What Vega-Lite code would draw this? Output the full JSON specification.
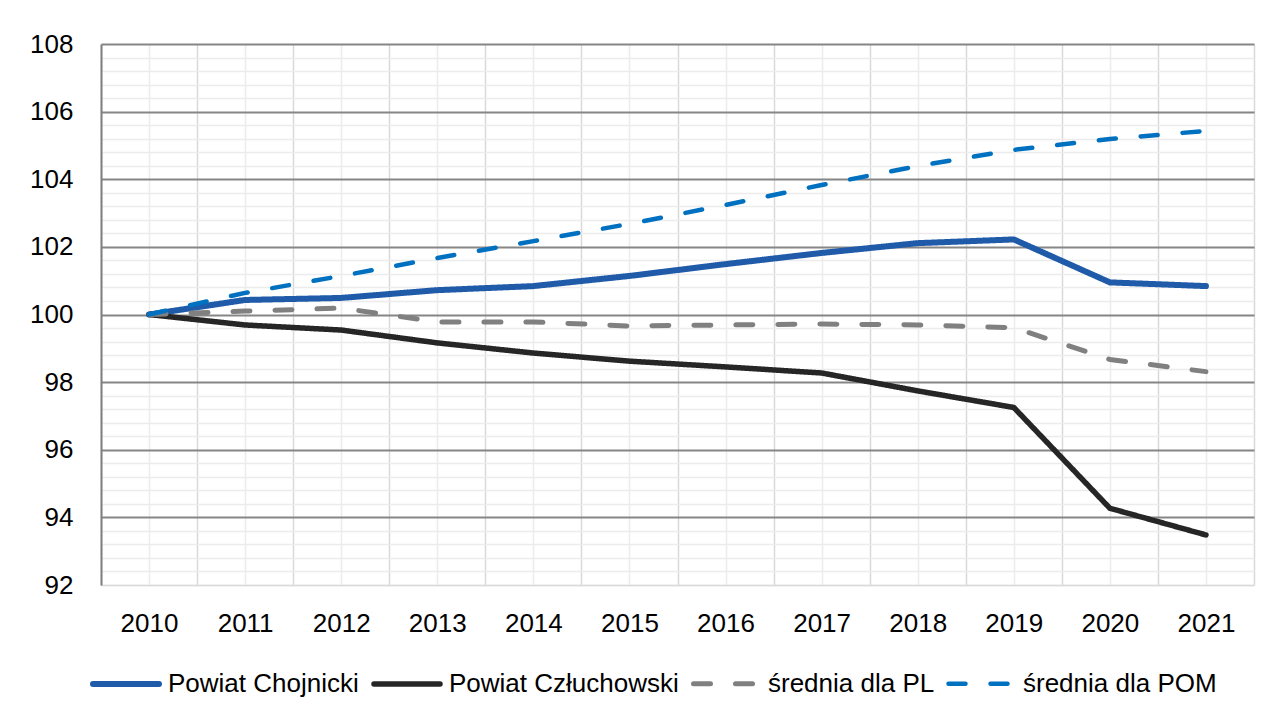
{
  "$schema": "https://vega.github.io/schema/vega-lite/v6.json",
  "width": 1153,
  "height": 541,
  "autosize": {"type": "none"},
  "padding": {"left": 101, "top": 44, "right": 19, "bottom": 134},
  "background": "white",
  "config": {
    "font": "Liberation Sans",
    "view": {"stroke": null},
    "axis": {"labelFont": "Liberation Sans", "labelColor": "#000000", "labelFontSize": 26, "labelOverlap": false}
  },
  "data": {
    "values": [
      {"year": 2010, "series": "Powiat Chojnicki", "value": 100},
      {"year": 2011, "series": "Powiat Chojnicki", "value": 100.43},
      {"year": 2012, "series": "Powiat Chojnicki", "value": 100.49},
      {"year": 2013, "series": "Powiat Chojnicki", "value": 100.72},
      {"year": 2014, "series": "Powiat Chojnicki", "value": 100.84},
      {"year": 2015, "series": "Powiat Chojnicki", "value": 101.14},
      {"year": 2016, "series": "Powiat Chojnicki", "value": 101.49},
      {"year": 2017, "series": "Powiat Chojnicki", "value": 101.82},
      {"year": 2018, "series": "Powiat Chojnicki", "value": 102.11},
      {"year": 2019, "series": "Powiat Chojnicki", "value": 102.22},
      {"year": 2020, "series": "Powiat Chojnicki", "value": 100.95},
      {"year": 2021, "series": "Powiat Chojnicki", "value": 100.84},
      {"year": 2010, "series": "Powiat Człuchowski", "value": 100},
      {"year": 2011, "series": "Powiat Człuchowski", "value": 99.69},
      {"year": 2012, "series": "Powiat Człuchowski", "value": 99.54},
      {"year": 2013, "series": "Powiat Człuchowski", "value": 99.16},
      {"year": 2014, "series": "Powiat Człuchowski", "value": 98.86},
      {"year": 2015, "series": "Powiat Człuchowski", "value": 98.62},
      {"year": 2016, "series": "Powiat Człuchowski", "value": 98.45},
      {"year": 2017, "series": "Powiat Człuchowski", "value": 98.27},
      {"year": 2018, "series": "Powiat Człuchowski", "value": 97.74},
      {"year": 2019, "series": "Powiat Człuchowski", "value": 97.25},
      {"year": 2020, "series": "Powiat Człuchowski", "value": 94.27},
      {"year": 2021, "series": "Powiat Człuchowski", "value": 93.48},
      {"year": 2010, "series": "średnia dla PL", "value": 100},
      {"year": 2011, "series": "średnia dla PL", "value": 100.1},
      {"year": 2012, "series": "średnia dla PL", "value": 100.19},
      {"year": 2013, "series": "średnia dla PL", "value": 99.78},
      {"year": 2014, "series": "średnia dla PL", "value": 99.78},
      {"year": 2015, "series": "średnia dla PL", "value": 99.66},
      {"year": 2016, "series": "średnia dla PL", "value": 99.69},
      {"year": 2017, "series": "średnia dla PL", "value": 99.72},
      {"year": 2018, "series": "średnia dla PL", "value": 99.69},
      {"year": 2019, "series": "średnia dla PL", "value": 99.61},
      {"year": 2020, "series": "średnia dla PL", "value": 98.67},
      {"year": 2021, "series": "średnia dla PL", "value": 98.31},
      {"year": 2010, "series": "średnia dla POM", "value": 100},
      {"year": 2011, "series": "średnia dla POM", "value": 100.64},
      {"year": 2012, "series": "średnia dla POM", "value": 101.14},
      {"year": 2013, "series": "średnia dla POM", "value": 101.67},
      {"year": 2014, "series": "średnia dla POM", "value": 102.17},
      {"year": 2015, "series": "średnia dla POM", "value": 102.68},
      {"year": 2016, "series": "średnia dla POM", "value": 103.24},
      {"year": 2017, "series": "średnia dla POM", "value": 103.83},
      {"year": 2018, "series": "średnia dla POM", "value": 104.39},
      {"year": 2019, "series": "średnia dla POM", "value": 104.87},
      {"year": 2020, "series": "średnia dla POM", "value": 105.19},
      {"year": 2021, "series": "średnia dla POM", "value": 105.43}
    ]
  },
  "mark": {"type": "line", "strokeCap": "round", "strokeJoin": "round", "clip": false},
  "encoding": {
    "x": {
      "field": "year",
      "type": "quantitative",
      "scale": {"domain": [2009.5, 2021.5], "nice": false, "zero": false},
      "axis": {
        "title": null,
        "values": [2009.5, 2010, 2010.5, 2011, 2011.5, 2012, 2012.5, 2013, 2013.5, 2014, 2014.5, 2015, 2015.5, 2016, 2016.5, 2017, 2017.5, 2018, 2018.5, 2019, 2019.5, 2020, 2020.5, 2021, 2021.5],
        "labelExpr": "datum.value % 1 === 0 ? '' + datum.value : ''",
        "labelOverlap": false,
        "labelFlush": false,
        "ticks": false,
        "tickSize": 0,
        "labelPadding": 25,
        "labelBaseline": "top",
        "domainColor": "#d9d9d9",
        "domainWidth": 1.5,
        "grid": true,
        "gridColor": {"condition": {"test": "datum.value % 1 !== 0", "value": "#d9d9d9"}, "value": "#ececec"},
        "gridWidth": 1.5,
        "zindex": 0
      }
    },
    "y": {
      "field": "value",
      "type": "quantitative",
      "scale": {"domain": [92, 108], "nice": false, "zero": false},
      "axis": {
        "title": null,
        "values": [92, 92.4, 92.8, 93.2, 93.6, 94, 94.4, 94.8, 95.2, 95.6, 96, 96.4, 96.8, 97.2, 97.6, 98, 98.4, 98.8, 99.2, 99.6, 100, 100.4, 100.8, 101.2, 101.6, 102, 102.4, 102.8, 103.2, 103.6, 104, 104.4, 104.8, 105.2, 105.6, 106, 106.4, 106.8, 107.2, 107.6, 108],
        "labelExpr": "datum.value % 2 === 0 ? '' + datum.value : ''",
        "labelOverlap": false,
        "labelFlush": false,
        "ticks": false,
        "tickSize": 0,
        "labelPadding": 28,
        "labelAlign": "right",
        "labelBaseline": "middle",
        "domainColor": "#7f7f7f",
        "domainWidth": 2,
        "grid": true,
        "gridColor": {"condition": {"test": "datum.value % 2 === 0 && datum.value > 92", "value": "#868686"}, "value": "#ececec"},
        "gridWidth": {"condition": {"test": "datum.value % 2 === 0 && datum.value > 92", "value": 1.8}, "value": 1.5},
        "zindex": 0
      }
    },
    "color": {
      "field": "series",
      "type": "nominal",
      "scale": {
        "domain": ["Powiat Chojnicki", "Powiat Człuchowski", "średnia dla PL", "średnia dla POM"],
        "range": ["#1f5ba8", "#262626", "#808080", "#0070c0"]
      },
      "legend": {
        "title": null,
        "orient": "none",
        "direction": "horizontal",
        "legendX": -11,
        "legendY": 604,
        "symbolType": "stroke",
        "symbolSize": 4356,
        "labelFontSize": 26,
        "labelFont": "Liberation Sans",
        "labelColor": "#000000",
        "labelOffset": 6,
        "columnPadding": 4,
        "labelLimit": 400,
        "encode": {"symbols": {"update": {"strokeCap": {"value": "round"}}}}
      }
    },
    "strokeDash": {
      "field": "series",
      "type": "nominal",
      "scale": {
        "domain": ["Powiat Chojnicki", "Powiat Człuchowski", "średnia dla PL", "średnia dla POM"],
        "range": [[1, 0], [1, 0], [17, 25], [17, 25]]
      },
      "legend": {"title": null}
    },
    "strokeWidth": {
      "field": "series",
      "type": "nominal",
      "scale": {
        "domain": ["Powiat Chojnicki", "Powiat Człuchowski", "średnia dla PL", "średnia dla POM"],
        "range": [6, 4.5, 5, 5]
      },
      "legend": {"title": null}
    }
  }
}
